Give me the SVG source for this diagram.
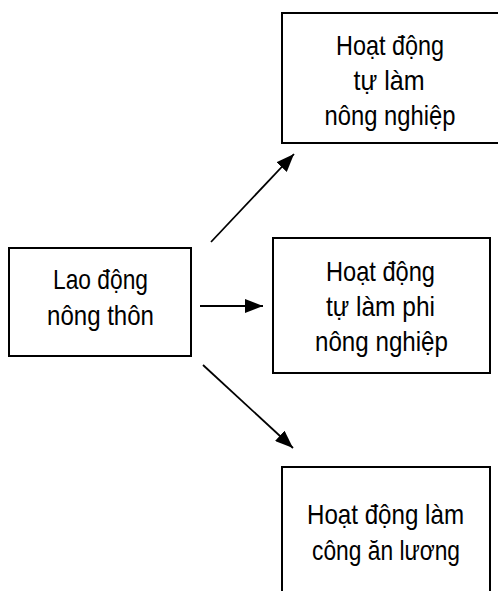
<svg xmlns="http://www.w3.org/2000/svg" width="498" height="591" viewBox="0 0 498 591">
<style>
  .box { fill: #fff; stroke: #000; stroke-width: 2; }
  .lbl { font-family: "Liberation Sans", Arial, sans-serif; font-size: 28px; fill: #000; text-anchor: middle; }
  .conn { stroke: #000; stroke-width: 1.8; fill: none; marker-end: url(#ah); }
</style>
<defs>
  <marker id="ah" viewBox="0 0 18 14" refX="18" refY="7" markerWidth="18" markerHeight="14" markerUnits="userSpaceOnUse" orient="auto">
    <path d="M0,0 L18,7 L0,14 Z" fill="#000"/>
  </marker>
</defs>
<rect width="498" height="591" fill="#fff"/>
<g id="node-nong-nghiep">
  <rect class="box" x="282" y="13" width="220" height="130"/>
  <text class="lbl" x="390" y="55" textLength="108" lengthAdjust="spacingAndGlyphs">Hoạt động</text>
  <text class="lbl" x="389" y="90" textLength="71" lengthAdjust="spacingAndGlyphs">tự làm</text>
  <text class="lbl" x="390" y="125" textLength="131" lengthAdjust="spacingAndGlyphs">nông nghiệp</text>
</g>
<g id="node-lao-dong">
  <rect class="box" x="9" y="248" width="182" height="108"/>
  <text class="lbl" x="100.5" y="289" textLength="95" lengthAdjust="spacingAndGlyphs">Lao động</text>
  <text class="lbl" x="100.5" y="325" textLength="107" lengthAdjust="spacingAndGlyphs">nông thôn</text>
</g>
<g id="node-phi-nong-nghiep">
  <rect class="box" x="273" y="238" width="217" height="135"/>
  <text class="lbl" x="380.5" y="281" textLength="109" lengthAdjust="spacingAndGlyphs">Hoạt động</text>
  <text class="lbl" x="380.5" y="316" textLength="109" lengthAdjust="spacingAndGlyphs">tự làm phi</text>
  <text class="lbl" x="381.5" y="351" textLength="133" lengthAdjust="spacingAndGlyphs">nông nghiệp</text>
</g>
<g id="node-an-luong">
  <rect class="box" x="282" y="467" width="208" height="140"/>
  <text class="lbl" x="385.5" y="524" textLength="157" lengthAdjust="spacingAndGlyphs">Hoạt động làm</text>
  <text class="lbl" x="386" y="560" textLength="148" lengthAdjust="spacingAndGlyphs">công ăn lương</text>
</g>
<g id="connectors">
  <line class="conn" x1="211" y1="242" x2="294" y2="154"/>
  <line class="conn" x1="200" y1="306" x2="263" y2="306"/>
  <line class="conn" x1="203" y1="365" x2="293" y2="448"/>
</g>
</svg>
